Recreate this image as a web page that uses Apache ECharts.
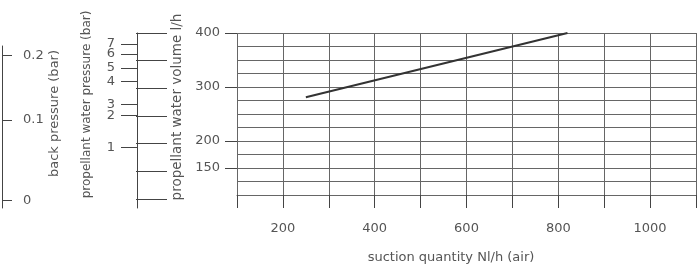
<!DOCTYPE html>
<html>
<head>
    <meta charset="utf-8">
    <title>suction quantity</title>
    <script src="https://cdn.jsdelivr.net/npm/echarts@6.0.0/dist/echarts.min.js"></script>
    <style>
        body { margin: 0; background: #fff; }
        #chart { width: 699px; height: 269px; }
    </style>
</head>
<body>
    <div id="chart"></div>
    <script>
        // suction curve (air Nl/h -> propellant water volume l/h)
        var suction = [250, 820];
        var waterVolume = [281, 400];

        // tick labels
        var suctionLabels = [200, 400, 600, 800, 1000];
        var volumeLabels = [150, 200, 300, 400];
        var volumeMarks = [100, 150, 200, 250, 300, 350, 400];

        // propellant water pressure scale, read against the volume scale
        var pressureLabels = ['1', '2', '3', '4', '5', '6', '7'];
        var pressureAt = [193, 250.5, 270.5, 312.5, 336.7, 362, 380];

        // back pressure scale, read against the volume scale
        var backLabels = ['0', '0.1', '0.2'];
        var backAt = [97, 243, 359];

        var txt = '#555';
        var ln = '#444';
        var gridLn = '#666';
        var font = '"DejaVu Sans", sans-serif';

        // the pressure marks are too close for one axis (echarts drops overlapping ones),
        // so they are split over two axes drawn at the same place
        var pressureA = pressureAt.filter(function (v, i) { return i % 2 === 0; });
        var pressureB = pressureAt.filter(function (v, i) { return i % 2 === 1; });

        function pressureAxis(values, withName) {
            var ax = {
                gridIndex: 1, type: 'value', position: 'left', offset: 0, min: 83.7, max: 400,
                axisLine: { show: withName, lineStyle: { color: ln } },
                axisTick: { customValues: values, length: 16, lineStyle: { color: ln } },
                axisLabel: {
                    customValues: values, margin: 22, color: txt, fontSize: 13,
                    formatter: function (v) { return pressureLabels[pressureAt.indexOf(v)]; }
                },
                splitLine: { show: false }
            };
            if (withName) {
                ax.name = 'propellant water pressure (bar)';
                ax.nameLocation = 'middle';
                ax.nameGap = 44;
                ax.nameRotate = 90;
                ax.nameTextStyle = { color: txt, fontSize: 12, padding: [0, 0, 0, 32] };
            }
            return ax;
        }

        var chart = echarts.init(document.getElementById('chart'));

        chart.setOption({
            animation: false,
            textStyle: { fontFamily: font },
            grid: [
                { left: 237, right: 3, top: 33, bottom: 70 },
                { left: 137, width: 1, top: 33, bottom: 61 },
                { left: 2, width: 10, top: 46, bottom: 61 },
                { left: 136, width: 1, top: 33, bottom: 61 }
            ],
            xAxis: [{
                type: 'value', min: 100, max: 1100, interval: 100,
                name: 'suction quantity Nl/h (air)', nameLocation: 'middle', nameGap: 56,
                nameTextStyle: { color: txt, fontSize: 13, padding: [0, 31, 0, 0] },
                axisLine: { lineStyle: { color: gridLn } },
                axisTick: { length: 13, lineStyle: { color: ln } },
                axisLabel: {
                    customValues: suctionLabels, margin: 27, color: txt, fontSize: 13,
                    formatter: function (v) { return String(v); }
                },
                splitLine: { lineStyle: { color: gridLn } }
            },
            { gridIndex: 1, type: 'value', show: false },
            { gridIndex: 2, type: 'value', show: false },
            { gridIndex: 3, type: 'value', show: false }],
            yAxis: [{
                type: 'value', position: 'left', min: 100, max: 400, interval: 25,
                name: 'propellant water volume l/h', nameLocation: 'middle', nameGap: 49, nameRotate: 90,
                nameTextStyle: { color: txt, fontSize: 13.5, padding: [0, 0, 0, 14] },
                axisLine: { show: false },
                axisTick: { customValues: volumeLabels, length: 12, lineStyle: { color: ln } },
                axisLabel: { customValues: volumeLabels, margin: 17, color: txt, fontSize: 13 },
                splitLine: { show: false }
            }, {
                // horizontal grid every 25 l/h
                type: 'value', position: 'left', min: 100, max: 400, interval: 25,
                axisLine: { show: false }, axisTick: { show: false }, axisLabel: { show: false },
                splitLine: { lineStyle: { color: gridLn } }
            },
            pressureAxis(pressureA, true),
            pressureAxis(pressureB, false),
            {
                // back pressure
                gridIndex: 2, type: 'value', position: 'right', min: 83.7, max: 376.5,
                name: 'back pressure (bar)', nameLocation: 'middle', nameGap: 36, nameRotate: 90,
                nameTextStyle: { color: txt, fontSize: 13, padding: [0, 0, 0, 27] },
                axisLine: { show: true, lineStyle: { color: ln } },
                axisTick: { customValues: backAt, length: 10, lineStyle: { color: ln } },
                axisLabel: {
                    customValues: backAt, margin: 11, color: txt, fontSize: 13,
                    formatter: function (v) { return backLabels[backAt.indexOf(v)]; }
                },
                splitLine: { show: false }
            }, {
                // marks every 50 l/h on the right of the pressure axis
                gridIndex: 3, type: 'value', position: 'right', min: 83.7, max: 400,
                axisLine: { show: false },
                axisTick: { customValues: volumeMarks, length: 31, lineStyle: { color: ln } },
                axisLabel: { show: false },
                splitLine: { show: false }
            }],
            series: [{
                type: 'line',
                xAxisIndex: 0, yAxisIndex: 0,
                data: suction.map(function (s, i) { return [s, waterVolume[i]]; }),
                showSymbol: false,
                lineStyle: { color: '#333', width: 2 }
            }]
        });
    </script>
</body>
</html>
